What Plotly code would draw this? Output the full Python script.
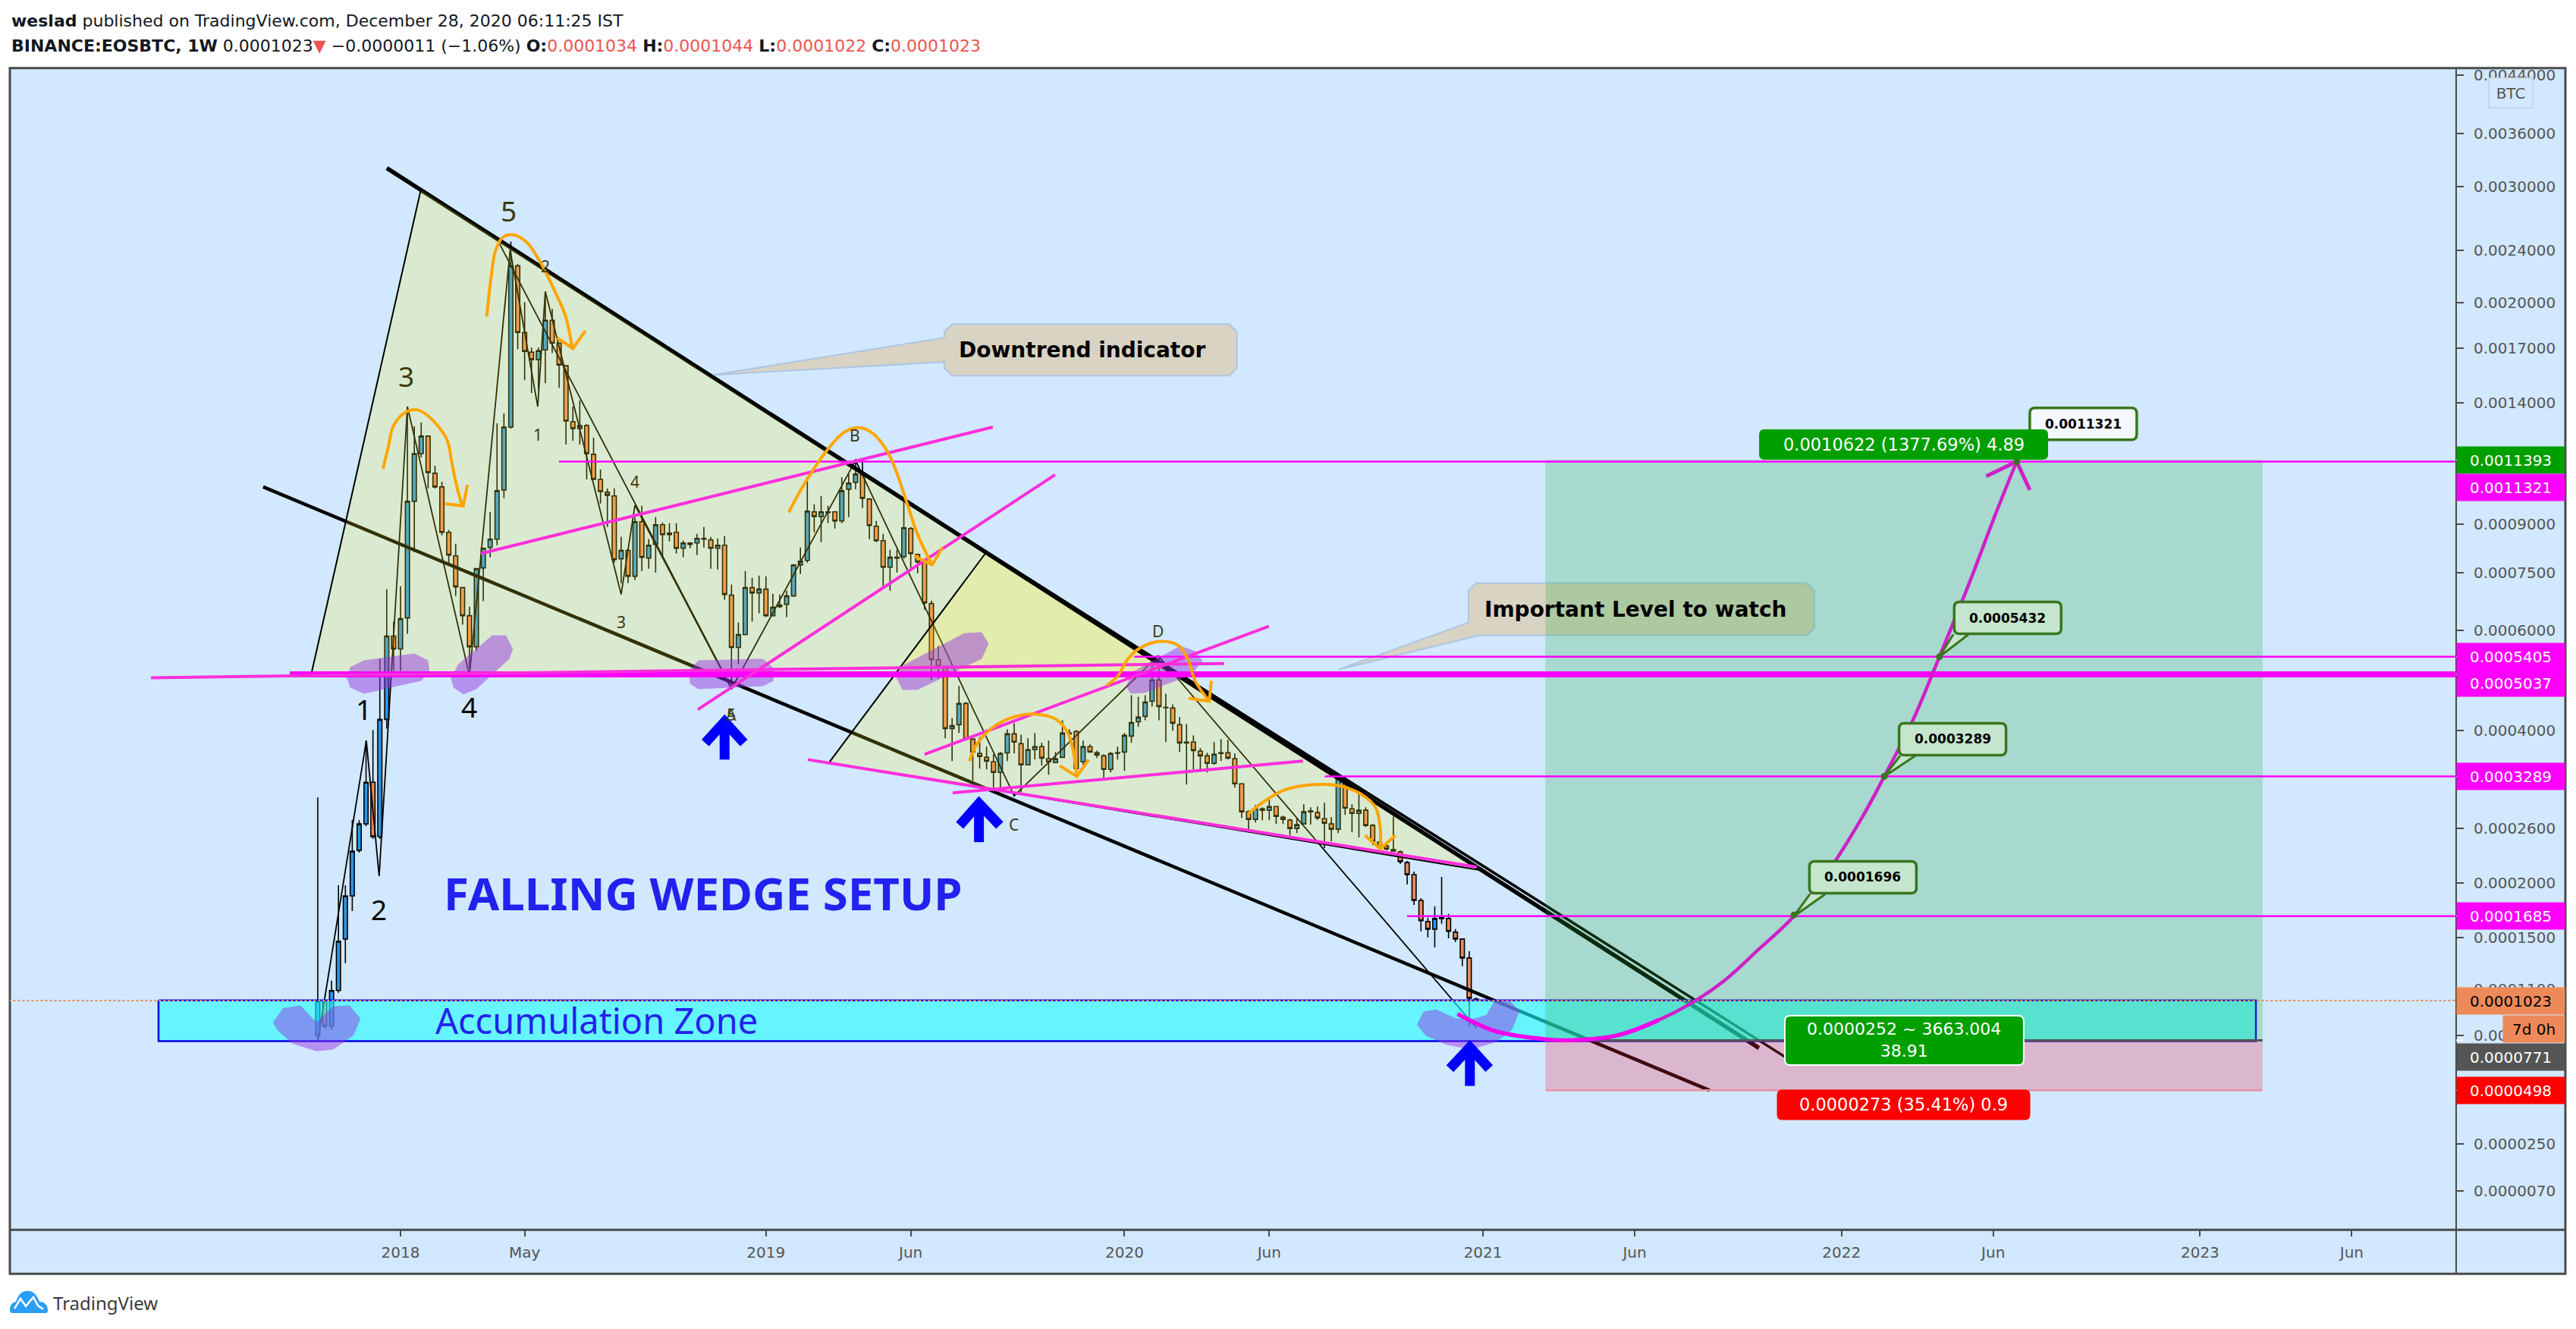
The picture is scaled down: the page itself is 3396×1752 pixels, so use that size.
import math
from datetime import datetime, timedelta
import plotly.graph_objects as go

# All prices are in units of 0.0000001 BTC. Time is in weeks after the first bar.
FIRST_BAR = datetime(2017, 10, 9)
OPENS = [802,1020,858,1093,1487,1874,2347,2658,3206,2504,
4192,5865,5574,6296,9784,11656,12419,10847,10317,8719,
7984,7076,6351,5624,7627,8238,8499,10203,12830,22748,
17995,16781,16336,16917,18781,17331,15987,13079,12761,12900,
11624,10608,10119,9980,7895,8149,7389,9071,7917,8333,
8969,8694,8719,8215,8333,8380,8524,8475,8215,8309,
6873,5608,5900,7076,6933,7035,6351,6578,6637,6853,
7714,7848,9411,9251,9385,9411,9097,10232,10491,10787,
9868,8919,8451,7647,7917,7960,8844,8029,7803,6656,
5345,5201,4036,4100,4477,3860,3632,3573,3504,3347,
3643,3947,3787,3459,3691,3739,3550,3493,3573,3960,
3985,3504,3739,3643,3596,3392,3643,3655,3910,4152,
4245,4518,4925,4407,4394,4100,3812,3812,3667,3596,
3481,3643,3643,3550,3185,2810,2714,2829,2829,2877,
2742,2704,2603,2658,2810,2800,2723,2658,2594,3238,
2848,2790,2829,2640,2442,2398,2355,2330,2213,2086,
1831,1637,1571,1664,1664,1545,1487,1334,1034]
HIGHS = [2997,1020,1163,1978,1978,2704,2704,3836,4010,5360,
7035,6204,7117,13812,12865,13043,12450,11152,10520,8794,
8356,7076,6578,7605,8215,9411,13005,13475,24750,22870,
20025,17055,17055,20785,19550,17331,16031,13812,14116,12970,
12349,10997,10260,10260,8572,8195,9225,9622,8499,9225,
9045,9020,9020,8451,8404,8670,8894,8572,8524,8596,
7157,6185,7540,7346,7410,7389,6913,6893,6994,7736,
8238,10697,9676,9979,9622,9435,10697,10817,11433,11433,
9895,9097,8670,8168,8168,9838,8894,8052,7893,6734,
5641,5201,4218,4806,4504,3873,3897,3739,3620,3655,
4023,4126,3934,3873,3960,3799,3836,3655,4178,4023,
4010,3836,3775,3678,3620,3655,3739,3960,4631,4603,
4631,5280,5393,4660,4462,4232,4113,3922,3715,3643,
3812,3860,3848,3632,3185,2829,2897,2868,2967,2877,
2761,2723,2723,2907,2868,2877,2927,2742,3292,3292,
2907,3048,2868,2658,2477,2416,2752,2347,2230,2118,
1852,1671,1775,2063,1705,1571,1493,1388,1044]
LOWS = [766,843,834,1077,1293,1732,2323,2630,2479,2478,
4036,5108,5108,5917,8099,11496,10260,10260,8621,7781,
6853,6131,5170,5540,6715,7940,8309,9895,12761,16963,
15187,14505,14662,15020,16737,14781,12047,12213,12047,10608,
10608,9703,8894,7781,7200,7200,7283,7540,7605,7497,
7960,8427,8052,7940,8215,8006,8238,7605,7583,6754,
4747,5249,5882,6204,6408,6314,6332,6540,6314,6833,
7453,7781,8719,8404,9020,8844,9020,9225,10232,9542,
8499,8404,7117,6994,7497,7893,7627,7475,6502,4925,
4955,3873,3515,3960,3836,3228,3403,3392,3121,3121,
3515,3632,3069,3448,3538,3448,3314,3482,3561,3836,
3314,3459,3643,3561,3260,3347,3538,3370,3799,4062,
4178,4421,4178,3812,3998,3655,3174,3392,3392,3347,
3459,3515,3538,3132,2733,2594,2676,2704,2704,2658,
2658,2521,2548,2649,2649,2704,2373,2451,2548,2771,
2557,2495,2621,2407,2364,2347,2339,2197,1986,1788,
1552,1500,1418,1617,1493,1462,1270,853,1022]
CLOSES = [1020,858,1093,1468,1874,2339,2658,3206,2504,4192,
5865,5574,6277,9784,11656,12419,10877,10317,8719,8006,
7096,6351,5624,7605,8215,8499,10175,12830,22748,17995,
16826,16336,16871,18781,17331,16031,13115,12761,12900,11656,
10608,10145,10007,7871,8149,7389,9071,7940,8309,8969,
8646,8646,8215,8380,8380,8524,8499,8215,8309,6893,
5608,5900,7076,6933,7035,6351,6559,6617,6853,7714,
7826,9435,9251,9411,9411,9097,10175,10462,10817,9895,
8944,8451,7647,7940,7940,8869,8052,7803,6675,5345,
5201,4036,4087,4477,3860,3655,3585,3515,3347,3632,
3947,3812,3459,3691,3739,3561,3504,3550,3960,3947,
3403,3739,3655,3608,3392,3632,3637,3922,4139,4232,
4504,4925,4421,4400,4126,3799,3799,3678,3596,3481,
3620,3632,3561,3185,2810,2714,2848,2848,2877,2752,
2714,2603,2649,2810,2820,2733,2667,2594,3260,2858,
2790,2829,2640,2451,2398,2364,2339,2222,2086,1831,
1644,1571,1664,1671,1552,1487,1334,1040,1023]

PRICE_TICKS = [44000,36000,30000,24000,20000,17000,14000,9000,7500,6000,4000,2600,2000,1500,1100,800,250,70]
DATE_TICKS = ["2018-01-01","2018-05-07","2019-01-07","2019-06-03","2020-01-06","2020-06-01",
              "2021-01-04","2021-06-07","2022-01-03","2022-06-06","2023-01-02","2023-06-05"]
DATE_LABELS = ["2018","May","2019","Jun","2020","Jun","2021","Jun","2022","Jun","2023","Jun"]

TREND_LOWER = [(10.01,31945),(209.02,726)]
TREND_UPPER = [(96.81,8122),(212.87,674)]
CHANNEL = [(-7.92,10317),(201.87,498)]
TRIANGLE_A = [(-0.99,5015),(14.96,29686),(124.09,5030),(-0.99,5015)]
TRIANGLE_B = [(96.81,8052),(74.15,3492),(168.54,2133),(96.81,8052)]
ZIGZAG = [(0,766),(7.04,3836),(8.9,2071),(13,13812),(22,5015),(27.9,24050),(31.9,13812),(33,20785),
          (44,6893),(46,9650),(60,4747),(78,11370),(101,3018),(121.9,5426),(168.1,843)]
ZIGZAG_BRANCH = [(26,24980),(58.7,5108)]

LEVEL_THICK = [(-4.07,5037),(310,5037)]
LEVEL_5405 = [(118.4,5405),(310,5405)]
LEVEL_11321 = [(34.98,11321),(310,11321)]
LEVEL_3289 = [(146.04,3289),(310,3289)]
LEVEL_1685 = [(157.98,1685),(310,1685)]
SLOPED_LINES = [
    [(-24.2,4970),(131.46,5263)],
    [(23.65,8052),(97.9,12830)],
    [(55.12,4367),(106.93,10787)],
    [(88.01,3620),(137.95,6095)],
    [(92.08,3059),(142.9,3515)],
    [(71.07,3538),(168.1,2165)],
]
PROJECTION_LOW = [(165.3,935),(170.6,829),(176.6,784),(181.4,771),(188.6,802),(194.5,896)]
PROJECTION_HIGH = [(181.4,771),(188.6,802),(194.5,896),(199.2,1005),(204,1163),(208.7,1388),(214.1,1685),(219.5,2165),
                   (224.2,2771),(227.2,3289),(231.4,4192),(235.2,5405),(239.7,7283),(243.2,9251),(246.4,11321)]
PROJECTION_HEAD = [(242,10730),(246.4,11321),(248.3,10205)]

ORANGE_ARCS = [
    [(9.46,11026),(10.2,11915),(11,12900),(12.8,13550),(14.3,13660),(16,13360),(18.7,12280),(19.4,11340),(20.1,10400),(20.9,9650)],
    [(24.5,19030),(25.1,21700),(25.8,24040),(26.8,25100),(28.3,25350),(30.3,24700),(32.2,23100),(34.2,21000),(35.9,19100),(36.9,17050)],
    [(68.3,9385),(70.3,10317),(74,11849),(76.5,12620),(78.7,12800),(80.6,12518),(82.6,11750),(83.8,10997),(85.3,9838),(87,8646),(89.1,7714)],
    [(114.4,4820),(116,5000),(117.5,5361),(119.4,5608),(122.3,5744),(124.9,5641),(126.3,5312),(127.3,4895),(129.3,4518)],
    [(94.5,3515),(95.8,3812),(98.3,4087),(101.2,4246),(104.2,4285),(107.1,4192),(108.9,3935),(110.1,3289)],
    [(134.9,2781),(137.3,2947),(140.2,3100),(144.6,3174),(148.3,3153),(151.2,3048),(153.4,2867),(154.1,2612),(154.1,2364)],
]
ORANGE_HEADS = [
    [(18.5,9700),(21.1,9620),(21.7,10400)],
    [(34.7,17660),(37,17000),(38.8,18090)],
    [(86.5,7984),(89.1,7714),(90.6,8238)],
    [(126.3,4574),(129.3,4518),(129.6,4910)],
    [(107.6,3447),(110.1,3289),(111.8,3538)],
    [(151.9,2521),(154.1,2364),(156.3,2521)],
]
SMEARS = [
    [(4.2,4970),(4.7,5185),(6.7,5328),(14,5475),(16,5328),(16.2,5108),(15,4910),(6.7,4660),(4.7,4777)],
    [(19.3,4970),(20.4,5250),(25.3,5882),(27.3,5882),(28.3,5574),(27.8,5361),(23,4747),(21.1,4645),(19.7,4777)],
    [(53.8,5108),(55.2,5328),(64.6,5361),(66.2,5154),(66.1,4910),(64.6,4806),(55.2,4747),(54,4850)],
    [(83.8,5000),(85,5233),(93.8,5935),(96.3,5952),(97.3,5692),(96.3,5361),(87,4732),(84.8,4732)],
    [(117.2,4806),(118.4,5108),(125.1,5641),(127.3,5524),(128.3,5312),(126.7,5030),(119.9,4674),(117.9,4660)],
    [(-6.5,881),(-5,974),(-2.5,990),(-0.2,881),(2.2,985),(4.6,990),(6.2,905),(5.2,802),(2.2,717),(-0.2,708),(-3.7,752),(-5.8,829)],
    [(159.4,867),(160.4,950),(162.2,964),(165.1,905),(167.7,905),(169.5,930),(170.6,1015),(172.8,1030),(174.3,950),
     (173.2,834),(171,763),(167.3,717),(163.7,745),(160.7,798)],
]
UP_ARROWS = [
    ([(59,3538),(59,4152)],[(56.2,3800),(59,4152),(61.8,3800)],13),
    ([(95.9,2441),(95.9,2917)],[(93.1,2640),(95.9,2917),(98.9,2640)],13),
    ([(167.1,520),(167.1,730)],[(164.2,611),(167.1,730),(169.9,611)],13),
]
ZONE = [(-23.1,1025),(281.1,1025),(281.1,766),(-23.1,766),(-23.1,1025)]
BOX_WEEKS = (178.05,282.07)
TARGET, ENTRY, STOP, LAST = 11393, 771, 498, 1023

CALLOUT_DOWNTREND = [(57.4,15478),(90.87,17660),(90.87,18043),(92,18533),(132.2,18533),(133.3,18043),(133.3,15859),
                     (132.2,15436),(92,15436),(90.87,15859),(90.87,16205),(57.4,15478)]
CALLOUT_LEVEL = [(148.1,5139),(166.9,6185),(166.9,6994),(168,7200),(215.95,7200),(217.05,6994),(217.05,6057),
                 (215.95,5882),(168.5,5882),(148.1,5139)]
TAILS = [[(237.2,5900),(235.2,5405),(239.4,5900)],
         [(229.5,3596),(227.2,3289),(231.7,3596)],
         [(216.4,1889),(214.1,1685),(218.6,1889)]]
TIPS = [(246.4,11321),(235.2,5405),(227.2,3289),(214.1,1696)]

WAVE_BIG = [("3",12.87,15436),("5",27.7,27580),("1",6.7,4380),("2",8.9,1746),("4",21.9,4421)]
WAVE_SMALL = [("1",31.9,12484),("2",33,22688),("4",46,10520),("3",44,6204),("B",77.9,12450),("D",121.9,5987),
              ("5",60,4272),("A",60,4272),("C",101,2648)]

UNIT = 1e-7
OFFSET = 1e-4   # the chart's log scale works on price + 0.0001

def qy(p):
    return p * UNIT + OFFSET
def wk(w):
    return (FIRST_BAR + timedelta(days=7 * w)).strftime("%Y-%m-%d %H:%M")
def ay(p):
    return math.log10(qy(p))
def fmt(p):
    return f"{p*UNIT:.7f}"

BLACK = "#000000"
fig = go.Figure()
fig.add_trace(go.Candlestick(
    x=[wk(i) for i in range(len(OPENS))],
    open=[qy(v) for v in OPENS], high=[qy(v) for v in HIGHS],
    low=[qy(v) for v in LOWS], close=[qy(v) for v in CLOSES],
    increasing=dict(line=dict(color=BLACK, width=1.6), fillcolor="#2A97E8"),
    decreasing=dict(line=dict(color=BLACK, width=1.6), fillcolor="#EE8A59"),
    whiskerwidth=0, hoverinfo="skip", showlegend=False))

def path(points, color=None, width=2, fill=None, dash=None, shape="linear"):
    fig.add_trace(go.Scatter(
        x=[wk(p[0]) for p in points], y=[qy(p[1]) for p in points], mode="lines",
        line=dict(color=color or "rgba(0,0,0,0)", width=width if color else 0, dash=dash, shape=shape),
        fill="toself" if fill else None, fillcolor=fill, hoverinfo="skip", showlegend=False))

TRI_FILL = "rgba(255,245,30,0.2)"
path(ZIGZAG, BLACK, 1.8)
path(ZIGZAG_BRANCH, BLACK, 1.8)
path(CHANNEL, BLACK, 4.5)
path(TREND_LOWER, BLACK, 5.5)
path(TREND_UPPER, BLACK, 3.5)
path(CALLOUT_DOWNTREND, "#ADC5E5", 2, "#D9D3C3")
path(CALLOUT_LEVEL, "#ADC5E5", 2, "#D9D3C3")
path(TRIANGLE_A, BLACK, 2, TRI_FILL)
path(TRIANGLE_B, BLACK, 2, TRI_FILL)
path(ZONE, "#0000EE", 2.5, "rgba(30,253,255,0.6)")
w0, w1 = BOX_WEEKS
path([(w0,TARGET),(w1,TARGET),(w1,ENTRY),(w0,ENTRY),(w0,TARGET)], None, 0, "rgba(45,172,62,0.25)")
path([(w0,ENTRY),(w1,ENTRY),(w1,STOP),(w0,STOP),(w0,ENTRY)], None, 0, "rgba(249,36,62,0.25)")
path([(w0,STOP),(w1,STOP)], "#E8919E", 2.5)
path([(w0,ENTRY),(w1,ENTRY)], "#555555", 3)
for s in SMEARS:
    path(s, None, 0, "rgba(150,50,225,0.48)")
path(LEVEL_THICK, "#FF00FF", 8)
path(LEVEL_5405, "#FF00FF", 2.5)
path(LEVEL_11321, "#FF00FF", 2.5)
path(LEVEL_3289, "#FF00FF", 2.5)
path(LEVEL_1685, "#FF00FF", 2.5)
for s in SLOPED_LINES:
    path(s, "#FF2EDC", 4)
path([(-45.5,LAST),(310,LAST)], "#EE8A59", 2, dash="dot")
path(PROJECTION_HIGH, "#CF20C8", 4.5, shape="spline")
path(PROJECTION_LOW, "#F500EC", 5.5, shape="spline")
path(PROJECTION_HEAD, "#CF20C8", 5)
for a in ORANGE_ARCS:
    path(a, "#FFA500", 4, shape="spline")
for a in ORANGE_HEADS:
    path(a, "#FFA500", 4)
for shaft, head, wid in UP_ARROWS:
    path(shaft, "#0000FF", wid)
    path(head, "#0000FF", wid)
for t in TAILS:
    path(t, "#38761D", 3, "#C5E6CC")
fig.add_trace(go.Scatter(x=[wk(t[0]) for t in TIPS], y=[qy(t[1]) for t in TIPS], mode="markers",
                         marker=dict(color="#38761D", size=9), hoverinfo="skip", showlegend=False))

BODY = "DejaVu Sans"
HEAD = "Noto Sans"
notes = []
shapes = []
def note(text, w, p, size, color="#000000", font=BODY, **kw):
    notes.append(dict(text=text, x=wk(w), y=ay(p), xref="x", yref="y", showarrow=False,
                      font=dict(family=font, size=size, color=color), **kw))

def rounded(w, p, bw, bh, fill, border=None, lw=0, r=7):
    """A rounded label plate, anchored at a data point and sized in screen pixels."""
    a, b = bw / 2, bh / 2
    d = (f"M{-a+r},{-b} L{a-r},{-b} Q{a},{-b} {a},{-b+r} L{a},{b-r} Q{a},{b} {a-r},{b} "
         f"L{-a+r},{b} Q{-a},{b} {-a},{b-r} L{-a},{-b+r} Q{-a},{-b} {-a+r},{-b} Z")
    shapes.append(dict(type="path", xref="x", yref="y", xsizemode="pixel", ysizemode="pixel",
                       xanchor=wk(w), yanchor=qy(p), path=d, fillcolor=fill, layer="above",
                       line=dict(color=border or "rgba(0,0,0,0)", width=lw)))

note("<b>Downtrend indicator</b>", 110.9, 16917, 28)
note("<b>Important Level to watch</b>", 191.2, 6502, 28)
note("<b>FALLING WEDGE SETUP</b>", 55.9, 1900, 60, "#2222EE", HEAD)
note("Accumulation Zone", 40.4, 895, 47, "#2222EE", HEAD)
for t, w, p in WAVE_BIG:
    note(t, w, p, 37, "#3A3A10" if t in ("3", "5") else "#000000", HEAD)
for t, w, p in WAVE_SMALL:
    note(t, w, p, 21, "#3A3A10", HEAD)
GREEN_LINE = "#38761D"
def value_box(text, w, p, fill):
    rounded(w, p, 141, 42, fill, GREEN_LINE, 3.5)
    note("<b>" + text + "</b>", w, p, 17)
value_box("0.0011321", 256.06, 12985, "#F4F9FF")
value_box("0.0005432", 245.1, 6296, "#C5E6CC")
value_box("0.0003289", 237.1, 3860, "#C5E6CC")
value_box("0.0001696", 224.1, 2059, "#C5E6CC")
rounded(230.0, 12047, 381, 40, "#009F00")
note("0.0010622 (1377.69%) 4.89", 230.0, 12047, 22.5, "#FFFFFF")
rounded(230.1, 771, 315, 65, "#009F00", "#FFFFFF", 2)
note("0.0000252 ~ 3663.004<br>38.91", 230.1, 771, 22, "#FFFFFF")
rounded(230.0, 427, 334, 40, "#FF0000")
note("0.0000273 (35.41%) 0.9", 230.0, 427, 22.5, "#FFFFFF")

PANEL_LEFT, PANEL_RIGHT, PLOT_RIGHT = 13, 3382, 3238
PANEL_TOP, PANEL_BOTTOM, PLOT_BOTTOM = 87, 1679, 1621
def px(v): return v / 3396
def py(v): return 1 - v / 1752

def scale_label(text, p, fill, color="#FFFFFF", yshift=0, xshift=0, width=142, tick=True):
    notes.append(dict(text=text, x=px(PLOT_RIGHT), xref="paper", xanchor="left", y=ay(p), yref="y", yshift=yshift, xshift=xshift,
                      showarrow=False, width=width, height=35, align="center", bgcolor=fill, borderpad=0,
                      font=dict(family=BODY, size=20, color=color)))
    if tick:
        shapes.append(dict(type="line", xref="paper", yref="y", xsizemode="pixel", ysizemode="pixel",
                           xanchor=px(PLOT_RIGHT), yanchor=qy(p), x0=0, x1=9, y0=yshift, y1=yshift,
                           line=dict(color=color, width=2), layer="above"))
scale_label(fmt(11393), 11393, "#009F00")
scale_label(fmt(11321), 11321, "#FF00FF", yshift=-34, tick=False)
scale_label(fmt(5405), 5405, "#FF00FF")
scale_label(fmt(5037), 5037, "#FF00FF", yshift=-11)
scale_label(fmt(3289), 3289, "#FF00FF")
scale_label(fmt(1685), 1685, "#FF00FF")
scale_label(fmt(1023), 1023, "#EE8A59", color="#000000")
scale_label("7d 0h", 1023, "#EE8A59", color="#000000", yshift=-37, xshift=61, width=81, tick=False)
scale_label(fmt(771), 771, "#555555", yshift=-22)
scale_label(fmt(498), 498, "#FF0000")

notes.append(dict(text="BTC", xref="paper", yref="paper", x=px(3310), y=py(120), xanchor="center", yanchor="middle",
                  showarrow=False, width=54, height=35, bgcolor="#D1E8FE", bordercolor="#CAD6E4", borderwidth=2,
                  font=dict(family=BODY, size=20, color="#555555")))
RED = "#EF5350"
def red(t): return f'<span style="color:{RED}">{t}</span>'
notes.append(dict(text="<b>weslad</b> published on TradingView.com, December 28, 2020 06:11:25 IST", xref="paper", yref="paper",
                  x=px(13), y=py(25), xanchor="left", yanchor="middle", showarrow=False, font=dict(family=BODY, size=22, color="#131722")))
notes.append(dict(text="<b>BINANCE:EOSBTC, 1W</b> 0.0001023" + red("▼") + " −0.0000011 (−1.06%) <b>O:</b>" + red("0.0001034")
                  + " <b>H:</b>" + red("0.0001044") + " <b>L:</b>" + red("0.0001022") + " <b>C:</b>" + red("0.0001023"),
                  xref="paper", yref="paper", x=px(13), y=py(58), xanchor="left", yanchor="middle", showarrow=False,
                  font=dict(family=BODY, size=22, color="#131722")))
notes.append(dict(text="TradingView", xref="paper", yref="paper", x=px(68), y=py(1717), xanchor="left", yanchor="middle", showarrow=False,
                  font=dict(family=HEAD, size=24, color="#3A3A3A")))

chrome = [
    dict(type="rect", xref="paper", yref="paper", x0=px(PANEL_LEFT), x1=px(PANEL_RIGHT), y0=py(PANEL_BOTTOM), y1=py(PANEL_TOP),
         fillcolor="#D1E8FE", line=dict(color="#4A4A4A", width=3), layer="below"),
    dict(type="line", xref="paper", yref="paper", x0=px(PLOT_RIGHT), x1=px(PLOT_RIGHT), y0=py(PANEL_BOTTOM), y1=py(PANEL_TOP),
         line=dict(color="#4A4A4A", width=2), layer="above"),
    dict(type="line", xref="paper", yref="paper", x0=px(PANEL_LEFT), x1=px(PANEL_RIGHT), y0=py(PLOT_BOTTOM), y1=py(PLOT_BOTTOM),
         line=dict(color="#4A4A4A", width=3), layer="above"),
    dict(type="path", xref="paper", yref="paper", xsizemode="pixel", ysizemode="pixel", xanchor=px(13), yanchor=py(1731),
         path="M0,4 C0,12 4,14 8,15 C12,28 20,30 24,29 C30,30 36,24 39,15 C46,15 50,10 50,4 C50,0 48,0 46,0 L4,0 C1,0 0,1 0,4 Z",
         fillcolor="#2A9EF4", line=dict(width=0)),
    dict(type="path", xref="paper", yref="paper", xsizemode="pixel", ysizemode="pixel", xanchor=px(13), yanchor=py(1731),
         path="M6,6 L14,19 L21,9 L31,21 L37,10 L44,5",
         line=dict(color="#FFFFFF", width=2.5)),
]

fig.update_layout(
    width=3396, height=1752, autosize=False, margin=dict(l=0, r=0, t=0, b=0, pad=0),
    paper_bgcolor="#FFFFFF", plot_bgcolor="rgba(0,0,0,0)", showlegend=False, hovermode=False,
    boxgap=0.25, boxgroupgap=0.2,
    annotations=notes, shapes=chrome + shapes,
    xaxis=dict(domain=[PANEL_LEFT / 3396, PLOT_RIGHT / 3396], type="date",
               range=["2016-11-30 09:00", "2023-09-19 00:00"], rangeslider=dict(visible=False),
               tickmode="array", tickvals=DATE_TICKS, ticktext=DATE_LABELS, showgrid=False, zeroline=False,
               ticks="outside", ticklen=8, tickwidth=2, tickcolor="#4A4A4A", showline=False, ticklabelstandoff=4,
               tickfont=dict(family=BODY, size=20, color="#555555")),
    yaxis=dict(domain=[1 - PLOT_BOTTOM / 1752, 1 - PANEL_TOP / 1752], type="log", side="right",
               range=[math.log10(0.00009385), math.log10(0.0046056)],
               tickmode="array", tickvals=[qy(v) for v in PRICE_TICKS], ticktext=[fmt(v) for v in PRICE_TICKS],
               showgrid=False, zeroline=False, ticks="outside", ticklen=9, tickwidth=2, tickcolor="#4A4A4A", showline=False,
               ticklabelstandoff=9, tickfont=dict(family=BODY, size=20, color="#555555")),
)
fig.write_html("out.html", config=dict(displayModeBar=False), post_script="document.body.style.margin='0';")
